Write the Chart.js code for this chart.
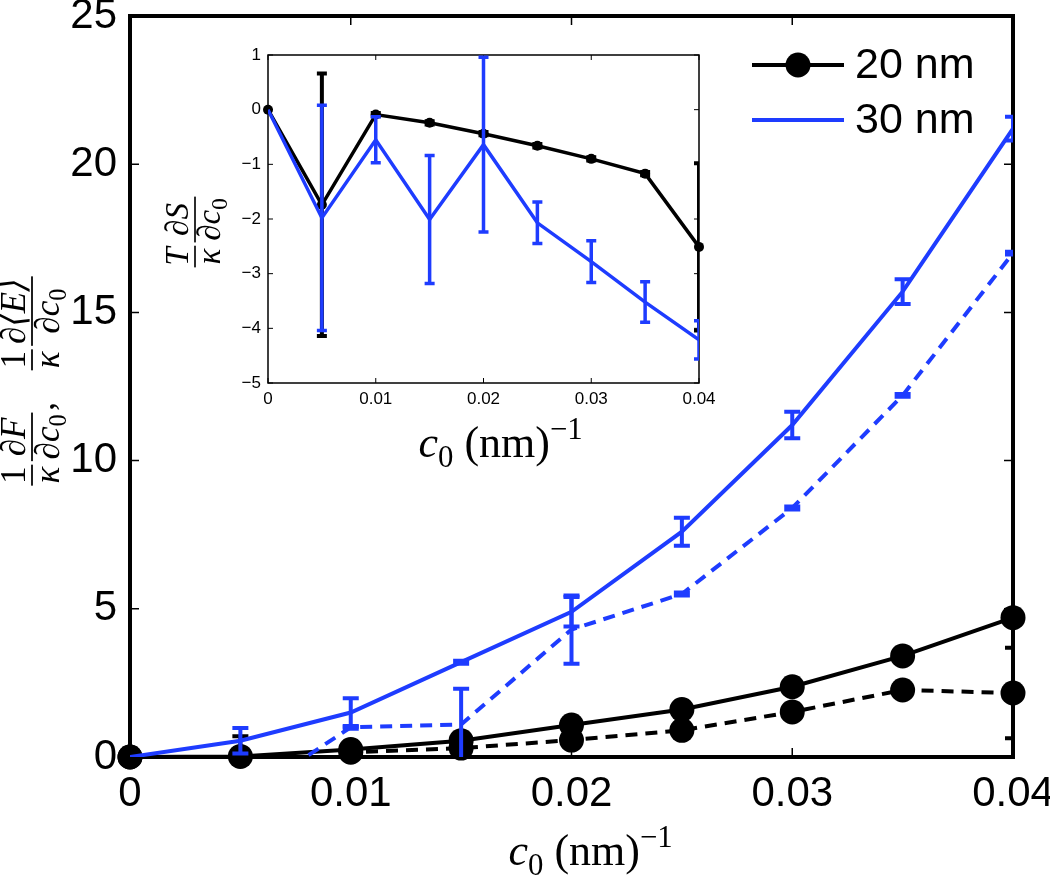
<!DOCTYPE html>
<html>
<head>
<meta charset="utf-8">
<script src="https://cdn.jsdelivr.net/npm/chart.js@4.4.1/dist/chart.umd.min.js"></script>
<style>
  html, body { margin: 0; padding: 0; background: #fff; }
  #wrap { position: relative; width: 1050px; height: 877px; }
  #mainChart { position: absolute; left: 0; top: 0; }
  #insetChart { position: absolute; left: 160px; top: 35px; }
</style>
</head>
<body>
<div id="wrap">
  <canvas id="mainChart" width="1050" height="877"></canvas>
  <canvas id="insetChart" width="560" height="440"></canvas>
</div>
<script>
// curvature values c0 (nm^-1), shared by both panels
const cVals = [0, 0.005, 0.01, 0.015, 0.02, 0.025, 0.03, 0.035, 0.04];
const xTicks = [0, 0.01, 0.02, 0.03, 0.04];
const yTicksMain = [0, 5, 10, 15, 20, 25];
const yTicksInset = [-5, -4, -3, -2, -1, 0, 1];
const seriesLabels = ['20 nm', '30 nm'];

// main panel: dF/dc0 (solid) and d<E>/dc0 (dashed)
const f20 = [0, 0.02, 0.25, 0.55, 1.08, 1.6, 2.37, 3.41, 4.7];
const e20 = [0, -1.7, 0.16, 0.3, 0.57, 0.9, 1.52, 2.26, 2.16];
const e20Err = [0, 2.4, 0, 0, 0, 0, 0, 0, 1.53];
const f30 = [0, 0.55, 1.5, 3.2, 4.9, 7.6, 11.2, 15.7, 21.2];
const f30Err = [0, 0.43, 0.48, 0.05, 0.5, 0.47, 0.45, 0.42, 0.4];
const e30 = [0, -1.45, 1.0, 1.1, 4.3, 5.5, 8.4, 12.2, 17.0];
const e30Err = [0, 0, 0.05, 1.2, 1.15, 0.05, 0.05, 0.05, 0.05];

// inset: T dS/dc0
const s20 = [0, -1.74, -0.09, -0.24, -0.44, -0.66, -0.9, -1.17, -2.51];
const s20Err = [0, 2.4, 0.03, 0.03, 0.03, 0.03, 0.03, 0.03, 1.53];
const s30 = [0, -1.98, -0.55, -2.01, -0.64, -2.07, -2.78, -3.52, -4.21];
const s30Err = [0, 2.06, 0.42, 1.17, 1.6, 0.38, 0.38, 0.37, 0.35];

const BLUE = '#1e3cff';
const SANS = '"Liberation Sans", Arial, sans-serif';
const SERIF = '"Liberation Serif", "DejaVu Serif", serif';

const pts = arr => cVals.map((c, i) => ({x: c, y: arr[i]}));

// ---- little math-text helpers (runs: [text, style]) ----
function runFont(r, size) {
  const small = r[1] === 'sub' || r[1] === 'sup';
  return (r[1] === 'i' ? 'italic ' : '') + (small ? size * 0.7 : size) + 'px ' + SERIF;
}
function runsWidth(ctx, runs, size) {
  let w = 0;
  runs.forEach(r => { ctx.font = runFont(r, size); w += ctx.measureText(r[0]).width; });
  return w;
}
function drawRuns(ctx, runs, x, y, size) {
  runs.forEach(r => {
    ctx.font = runFont(r, size);
    const dy = r[1] === 'sub' ? size * 0.22 : r[1] === 'sup' ? -size * 0.42 : 0;
    ctx.fillText(r[0], x, y + dy);
    x += ctx.measureText(r[0]).width;
  });
  return x;
}
function itemWidth(ctx, it, size) {
  if (it.space) return it.space;
  if (it.text) return runsWidth(ctx, it.text, size);
  return Math.max(runsWidth(ctx, it.num, size), runsWidth(ctx, it.den, size)) + size * 0.2;
}
// draws a row of fractions centred on (cx, cy), bar line at cy, rotated if asked
function drawFracRow(ctx, items, cx, cy, size, rotated) {
  ctx.save();
  ctx.translate(cx, cy);
  if (rotated) ctx.rotate(-Math.PI / 2);
  ctx.fillStyle = '#000';
  ctx.textBaseline = 'alphabetic';
  ctx.textAlign = 'left';
  let total = 0;
  items.forEach(it => { total += itemWidth(ctx, it, size); });
  let x = -total / 2;
  items.forEach(it => {
    const w = itemWidth(ctx, it, size);
    if (it.text) {
      drawRuns(ctx, it.text, x, size * 0.62, size);
    } else if (it.num) {
      const wn = runsWidth(ctx, it.num, size), wd = runsWidth(ctx, it.den, size);
      ctx.fillRect(x + size * 0.05, -size * 0.025, w - size * 0.1, size * 0.05);
      drawRuns(ctx, it.num, x + (w - wn) / 2, -size * 0.2, size);
      drawRuns(ctx, it.den, x + (w - wd) / 2, size * 0.76, size);
    }
    x += w;
  });
  ctx.restore();
}
const axisTitleRuns = [['c', 'i'], ['0', 'sub'], [' (nm)', 'r'], ['\u22121', 'sup']];

// ---- plugins ----
const boxFrame = {
  id: 'boxFrame',
  beforeDatasetsDraw(chart, args, opts) {
    const {ctx, chartArea: a} = chart;
    const xs = chart.scales.x, ys = chart.scales.y;
    ctx.save();
    ctx.fillStyle = '#fff';
    ctx.fillRect(a.left, a.top, a.right - a.left, a.bottom - a.top);
    ctx.strokeStyle = '#000';
    ctx.lineWidth = opts.tickWidth;
    ctx.beginPath();
    xs.ticks.forEach(t => {
      const px = xs.getPixelForValue(t.value);
      ctx.moveTo(px, a.bottom); ctx.lineTo(px, a.bottom - opts.tickLen);
      ctx.moveTo(px, a.top); ctx.lineTo(px, a.top + opts.tickLen);
    });
    ys.ticks.forEach(t => {
      const py = ys.getPixelForValue(t.value);
      ctx.moveTo(a.left, py); ctx.lineTo(a.left + opts.tickLen, py);
      ctx.moveTo(a.right, py); ctx.lineTo(a.right - opts.tickLen, py);
    });
    ctx.stroke();
    ctx.lineWidth = opts.frameWidth;
    ctx.strokeRect(a.left, a.top, a.right - a.left, a.bottom - a.top);
    ctx.restore();
  }
};

const errorBars = {
  id: 'errorBars',
  afterDatasetDraw(chart, args) {
    const ds = chart.data.datasets[args.index];
    if (!ds.errors) return;
    const meta = args.meta;
    const ys = chart.scales[meta.yAxisID];
    const {ctx, chartArea: a} = chart;
    const cap = ds.capHalf;
    ctx.save();
    ctx.beginPath();
    ctx.rect(a.left, a.top, a.right - a.left, a.bottom - a.top);
    ctx.clip();
    ctx.strokeStyle = ds.borderColor;
    ctx.lineWidth = ds.errWidth;
    ctx.setLineDash([]);
    ctx.beginPath();
    ds.data.forEach((p, i) => {
      const e = ds.errors[i];
      if (!e) return;
      const px = meta.data[i].x;
      const top = ys.getPixelForValue(p.y + e), bot = ys.getPixelForValue(p.y - e);
      ctx.moveTo(px, top); ctx.lineTo(px, bot);
      ctx.moveTo(px - cap, top); ctx.lineTo(px + cap, top);
      ctx.moveTo(px - cap, bot); ctx.lineTo(px + cap, bot);
    });
    ctx.stroke();
    ctx.restore();
  }
};

function fixedScale(min, max, tickList, size, pad, fmt, fit) {
  return {
    type: 'linear', min: min, max: max,
    grid: {display: false, drawTicks: false},
    border: {display: false},
    afterBuildTicks: s => { s.ticks = tickList.map(v => ({value: v})); },
    ticks: {
      autoSkip: false, maxRotation: 0, color: '#000', padding: pad,
      font: {family: SANS, size: size},
      callback: fmt
    },
    afterFit: fit
  };
}
const fmtX = v => String(v);
const fmtY = v => v < 0 ? '\u2212' + Math.abs(v) : String(v);

// ---- main panel ----
document.addEventListener('DOMContentLoaded', function() {
  const titlesMain = {
    id: 'titlesMain',
    afterDraw(chart) {
      const {ctx, chartArea: a} = chart;
      ctx.save();
      ctx.fillStyle = '#000';
      ctx.textBaseline = 'alphabetic';
      drawRuns(ctx, axisTitleRuns, (a.left + a.right) / 2 - 63, 865, 44);
      drawFracRow(ctx, [
        {num: [['1', 'r']], den: [['\u03ba', 'i']]},
        {num: [['\u2202', 'i'], ['F', 'i']], den: [['\u2202', 'i'], ['c', 'i'], ['0', 'sub']]},
        {text: [[',', 'r']]},
        {space: 30},
        {num: [['1', 'r']], den: [['\u03ba', 'i']]},
        {num: [['\u2202\u27e8', 'i'], ['E', 'i'], ['\u27e9', 'i']], den: [['\u2202', 'i'], ['c', 'i'], ['0', 'sub']]}
      ], 32, 381, 35, true);

      // legend, top right
      const entries = [
        {label: seriesLabels[0], color: '#000', marker: true, y: 65},
        {label: seriesLabels[1], color: BLUE, marker: false, y: 120}
      ];
      entries.forEach(en => {
        ctx.strokeStyle = en.color;
        ctx.lineWidth = 4;
        ctx.beginPath(); ctx.moveTo(752, en.y); ctx.lineTo(844, en.y); ctx.stroke();
        if (en.marker) {
          ctx.fillStyle = en.color;
          ctx.beginPath(); ctx.arc(798, en.y, 12.5, 0, Math.PI * 2); ctx.fill();
        }
        ctx.fillStyle = '#000';
        ctx.font = '43px ' + SANS;
        ctx.textBaseline = 'middle';
        ctx.fillText(en.label, 855, en.y + 1);
      });
      ctx.restore();
    }
  };

  const ctx1 = document.getElementById('mainChart').getContext('2d');
  new Chart(ctx1, {
    type: 'line',
    data: {
      datasets: [
        {label: 'F 30 nm', data: pts(f30), borderColor: BLUE, borderWidth: 4, pointRadius: 0,
         errors: f30Err, errWidth: 4, capHalf: 8},
        {label: 'E 30 nm', data: pts(e30), borderColor: BLUE, borderWidth: 4, borderDash: [12, 8], pointRadius: 0,
         errors: e30Err, errWidth: 4, capHalf: 8},
        {label: 'F 20 nm', data: pts(f20), borderColor: '#000', backgroundColor: '#000', borderWidth: 4,
         pointRadius: 12.5, pointBorderWidth: 0, clip: false},
        {label: 'E 20 nm', data: pts(e20), borderColor: '#000', borderWidth: 4, borderDash: [12, 8], pointRadius: 0,
         errors: e20Err, errWidth: 4, capHalf: 8},
        {label: 'E 20 nm markers', data: pts(e20), showLine: false, backgroundColor: '#000', borderColor: '#000',
         pointRadius: c => (c.raw && c.raw.y < 0 ? 0 : 12.5), pointBorderWidth: 0, clip: false}
      ]
    },
    options: {
      responsive: false,
      animation: false,
      layout: {padding: {top: 16, right: 37, bottom: 0, left: 0}},
      elements: {line: {tension: 0}},
      plugins: {
        legend: {display: false},
        tooltip: {enabled: false},
        boxFrame: {frameWidth: 4, tickLen: 9, tickWidth: 1.5}
      },
      scales: {
        x: fixedScale(0, 0.04, xTicks, 42, 12, fmtX, s => { s.height = 120; s.paddingLeft = 0; s.paddingRight = 0; }),
        y: fixedScale(0, 25, yTicksMain, 42, 13, fmtY, s => { s.width = 130; s.paddingTop = 0; s.paddingBottom = 0; })
      }
    },
    plugins: [boxFrame, errorBars, titlesMain]
  });
});

// ---- inset panel ----
document.addEventListener('DOMContentLoaded', function() {
  const titlesInset = {
    id: 'titlesInset',
    afterDraw(chart) {
      const {ctx, chartArea: a} = chart;
      ctx.save();
      ctx.fillStyle = '#000';
      ctx.textBaseline = 'alphabetic';
      drawRuns(ctx, axisTitleRuns, (a.left + a.right) / 2 - 65, 422, 44);
      drawFracRow(ctx, [
        {num: [['T', 'i']], den: [['\u03ba', 'i']]},
        {num: [['\u2202', 'i'], ['S', 'i']], den: [['\u2202', 'i'], ['c', 'i'], ['0', 'sub']]}
      ], 35, 197, 33, true);
      ctx.restore();
    }
  };

  const ctx2 = document.getElementById('insetChart').getContext('2d');
  new Chart(ctx2, {
    type: 'line',
    data: {
      datasets: [
        {label: seriesLabels[1], data: pts(s30), borderColor: BLUE, borderWidth: 3.5, pointRadius: 0,
         errors: s30Err, errWidth: 3.5, capHalf: 5},
        {label: seriesLabels[0], data: pts(s20), borderColor: '#000', backgroundColor: '#000', borderWidth: 3.5,
         pointRadius: 5, pointBorderWidth: 0, clip: false,
         errors: s20Err, errWidth: 4, capHalf: 5}
      ]
    },
    options: {
      responsive: false,
      animation: false,
      layout: {padding: {top: 20, right: 21, bottom: 0, left: 0}},
      elements: {line: {tension: 0}},
      plugins: {
        legend: {display: false},
        tooltip: {enabled: false},
        boxFrame: {frameWidth: 1.5, tickLen: 5, tickWidth: 1}
      },
      scales: {
        x: fixedScale(0, 0.04, xTicks, 17, 6, fmtX, s => { s.height = 92; s.paddingLeft = 0; s.paddingRight = 0; }),
        y: fixedScale(-5, 1, yTicksInset, 17, 7, fmtY, s => { s.width = 108; s.paddingTop = 0; s.paddingBottom = 0; })
      }
    },
    plugins: [boxFrame, errorBars, titlesInset]
  });
});
</script>
</body>
</html>
